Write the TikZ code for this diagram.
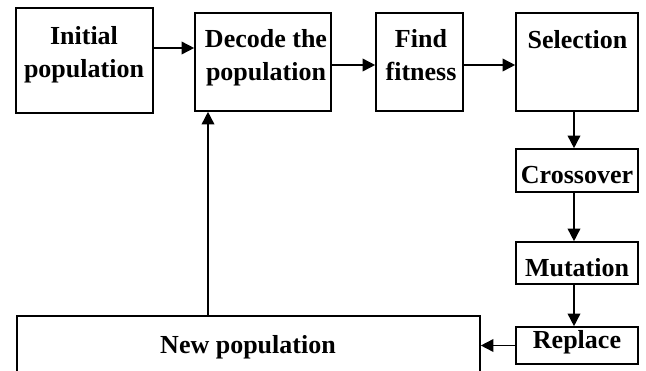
\documentclass[tikz,border=0pt]{standalone}
\usepackage{fontspec}
\setmainfont{Liberation Serif}
\usetikzlibrary{arrows.meta}
\tikzset{
  box/.style={draw=black, line width=1.2pt, fill=white, inner sep=0pt},
  txt/.style={inner sep=0pt, align=center, font=\bfseries\fontsize{19.5}{25}\selectfont},
  arr/.style={line width=1.2pt, -{Triangle[length=9.5pt,width=9.5pt]}}
}
\begin{document}
\begin{tikzpicture}[x=0.75pt,y=-0.75pt]
\useasboundingbox (0,0) rectangle (646,371);
% boxes
\node[box, minimum width=102.75pt, minimum height=78.75pt] (init) at (84.5,60.5) {};
\node[box, minimum width=102pt, minimum height=73.5pt] (decode) at (263,62) {};
\node[box, minimum width=65.25pt, minimum height=73.5pt] (find) at (419.5,62) {};
\node[box, minimum width=91.5pt, minimum height=73.5pt] (sel) at (577,62) {};
\node[box, minimum width=91.5pt, minimum height=32.25pt] (cross) at (577,170.5) {};
\node[box, minimum width=91.5pt, minimum height=31.5pt] (mut) at (577,263) {};
\node[box, minimum width=91.5pt, minimum height=27.75pt] (rep) at (577,345.5) {};
\node[box, minimum width=347.25pt, minimum height=42.75pt] (newpop) at (248.5,344.5) {};
% texts
\node[txt] (tinit) at (84,55) {Initial\\population};
\node[txt] (tdecode) at (266,58) {Decode the\\population};
\node[txt] (tfind) at (421,55) {Find\\fitness};
\node[txt] (tsel) at (577.5,40) {Selection};
\node[txt] (tcross) at (577,175) {Crossover};
\node[txt] (tmut) at (577,268) {Mutation};
\node[txt] (trep) at (577,342.5) {Replace};
\node[txt] (tnew) at (248,347.5) {New population};
% helper coordinates
\coordinate (ya) at (0,48);
\coordinate (yb) at (0,65);
\coordinate (xc) at (574,0);
\coordinate (xd) at (208,0);
% connectors
\draw[arr] (init.east |- ya) -- (decode.west |- ya);
\draw[arr] (decode.east |- yb) -- (find.west |- yb);
\draw[arr] (find.east |- yb) -- (sel.west |- yb);
\draw[arr] (sel.south -| xc) -- (cross.north -| xc);
\draw[arr] (cross.south -| xc) -- (mut.north -| xc);
\draw[arr] (mut.south -| xc) -- (rep.north -| xc);
\draw[arr] (rep.west) -- (rep.west -| newpop.east);
\draw[arr] (newpop.north -| xd) -- (decode.south -| xd);
\end{tikzpicture}
\end{document}
